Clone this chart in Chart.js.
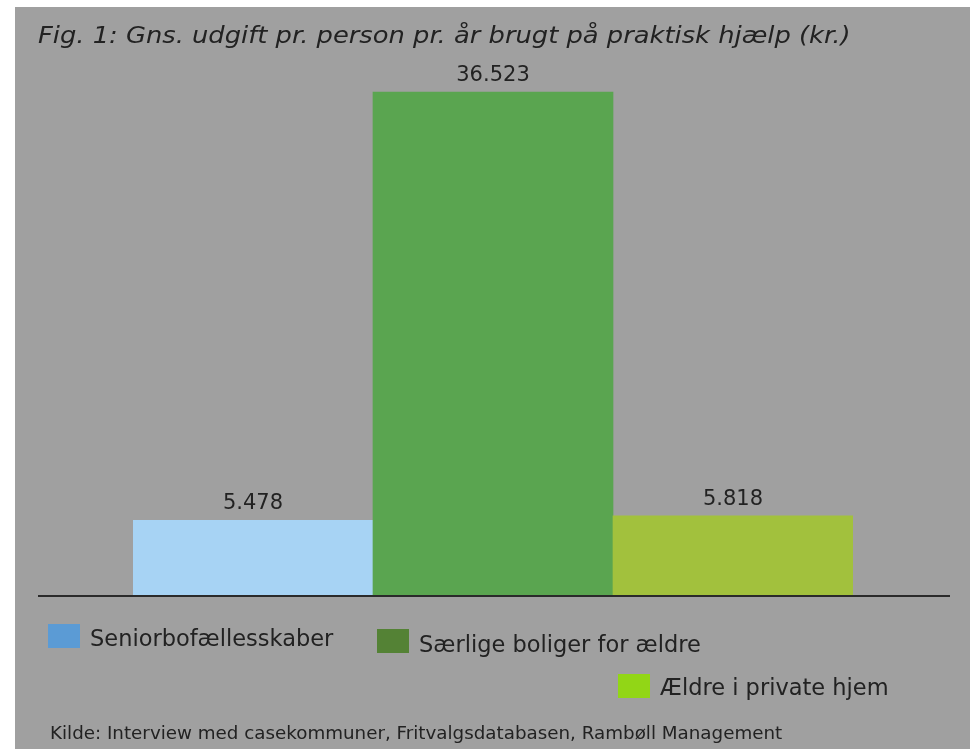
<!DOCTYPE html>
<html>
<head>
<meta charset="utf-8">
<script src="https://cdn.jsdelivr.net/npm/chart.js@4/dist/chart.umd.min.js"></script>
<style>
  html, body { margin: 0; padding: 0; background: #fff; }
  #wrap { position: absolute; left: 0; top: 0; width: 979px; height: 749px; }
</style>
</head>
<body>
<div id="wrap"><canvas id="chart"></canvas></div>
<script>
// -- Data --
const categories = ["Seniorbofællesskaber", "Særlige boliger for ældre", "Ældre i private hjem"];
const values = [5478, 36523, 5818];
const barColors = ['#a7d3f4', '#5aa550', '#a2c13d'];
const legendColors = ['#5b9bd5', '#548235', '#92d616'];

const TITLE = "Fig. 1: Gns. udgift pr. person pr. år brugt på praktisk hjælp (kr.)";
const SOURCE = "Kilde: Interview med casekommuner, Fritvalgsdatabasen, Rambøll Management";
const FONT = '"DejaVu Sans", Verdana, sans-serif';
const TEXT = '#222';

// legend swatch left/top and text baseline, laid out like the original
const legendPos = [[48, 624, 646], [377, 629, 652], [618, 674, 695]];

function formatDa(n) {
    return String(n).replace(/\B(?=(\d{3})+(?!\d))/g, '.');
}

// -- Plugins --
const backdrop = {
    id: 'backdrop',
    beforeDraw(chart) {
        const ctx = chart.ctx;
        ctx.save();
        ctx.fillStyle = '#a0a0a0';
        ctx.fillRect(15, 7, 955, 742);
        ctx.restore();
    }
};

const decorations = {
    id: 'decorations',
    afterDraw(chart) {
        const ctx = chart.ctx;
        const area = chart.chartArea;
        const y0 = chart.scales.y.getPixelForValue(0);
        ctx.save();

        // baseline runs wider than the bars
        ctx.strokeStyle = '#2a2a2a';
        ctx.lineWidth = 2;
        ctx.beginPath();
        ctx.moveTo(area.left - 95, y0);
        ctx.lineTo(area.right + 97, y0);
        ctx.stroke();

        // title (stretched a bit, the original font is wider)
        ctx.fillStyle = TEXT;
        ctx.textAlign = 'left';
        ctx.textBaseline = 'alphabetic';
        ctx.font = 'italic 23px ' + FONT;
        ctx.save();
        ctx.translate(38, 43);
        ctx.scale(1.12, 1);
        ctx.fillText(TITLE, 0, 0);
        ctx.restore();

        // value labels
        ctx.font = '21px ' + FONT;
        ctx.textAlign = 'center';
        chart.getDatasetMeta(0).data.forEach((bar, i) => {
            ctx.fillText(formatDa(values[i]), bar.x, bar.y - 11);
        });

        // legend
        ctx.font = '22.5px ' + FONT;
        ctx.textAlign = 'left';
        categories.forEach((label, i) => {
            const [lx, ly, base] = legendPos[i];
            ctx.fillStyle = legendColors[i];
            ctx.fillRect(lx, ly, 32, 24);
            ctx.fillStyle = TEXT;
            ctx.fillText(label, lx + 42, base);
        });

        // source
        ctx.font = '18.3px ' + FONT;
        ctx.fillText(SOURCE, 50, 739);

        ctx.restore();
    }
};

// -- Chart --
new Chart(document.getElementById('chart'), {
    type: 'bar',
    data: {
        labels: categories,
        datasets: [{
            data: values,
            backgroundColor: barColors,
            borderWidth: 0,
            barPercentage: 1,
            categoryPercentage: 1
        }]
    },
    options: {
        responsive: true,
        maintainAspectRatio: false,
        animation: false,
        layout: { padding: { left: 133, right: 126, top: 44, bottom: 153 } },
        scales: {
            x: { display: false },
            y: { display: false, min: 0, max: 40000 }
        },
        plugins: {
            legend: { display: false },
            title: { display: false },
            tooltip: { enabled: false }
        }
    },
    plugins: [backdrop, decorations]
});
</script>
</body>
</html>
